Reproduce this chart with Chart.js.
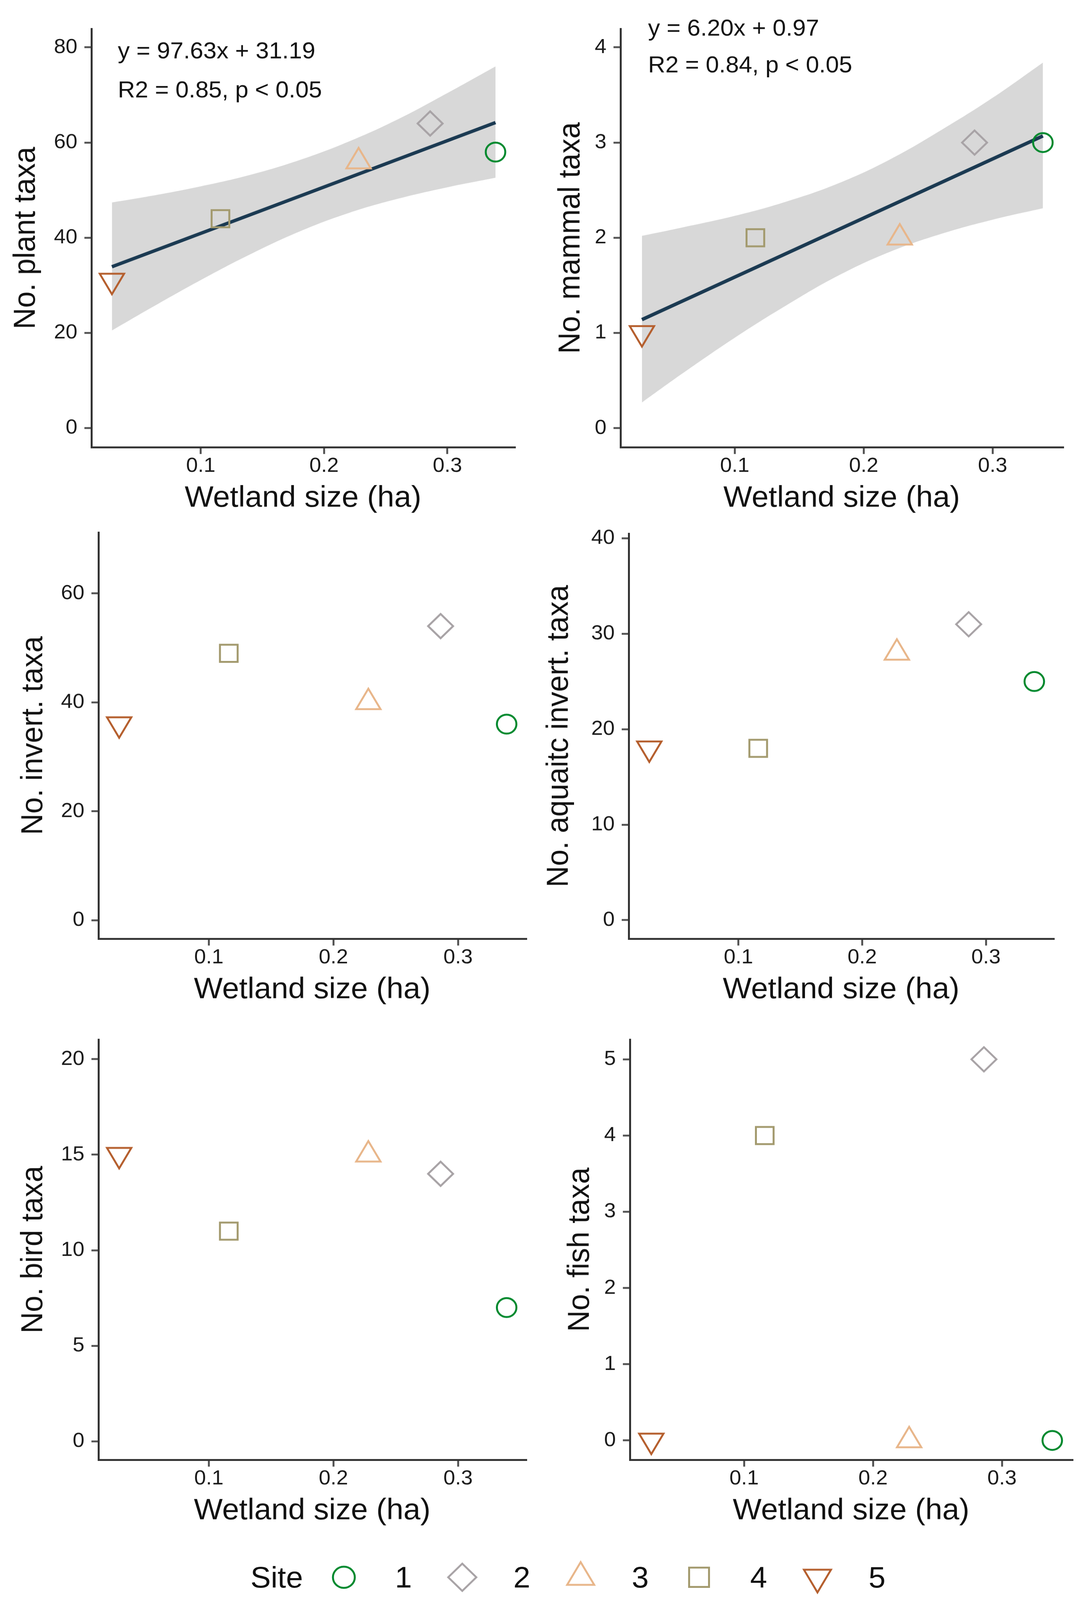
<!DOCTYPE html>
<html>
<head>
<meta charset="utf-8">
<script src="https://cdn.jsdelivr.net/npm/chart.js@4.4.0/dist/chart.umd.min.js"></script>
<style>
  html, body { margin: 0; padding: 0; background: #fff; overflow: hidden; }
  #page { width: 2792px; height: 4222px; position: relative; transform-origin: 0 0;
          font-family: "Liberation Sans", Arial, sans-serif; }
  canvas.panel { position: absolute; }
  #legend { position: absolute; left: 641px; top: 4117px; height: 90px;
            display: flex; align-items: center; font-size: 78px; color: #111; }
  #legend .site { margin-right: 60px; }
  #legend canvas { width: 90px; height: 90px; }
  #legend .lab { display: inline-block; width: 44px; text-align: center; margin-left: 85px; margin-right: 84px; }
</style>
</head>
<body>
<div id="page"><div id="legend"></div></div>
<script>
// sites and wetland size (ha)
const sites = ['1', '2', '3', '4', '5']
const wetlandSize = [0.339, 0.286, 0.228, 0.116, 0.028]

// taxa counts per site
const plantTaxa = [58, 64, 56, 44, 31]
const mammalTaxa = [3, 3, 2, 2, 1]
const invertTaxa = [36, 54, 40, 49, 36]
const aquaticInvertTaxa = [25, 31, 28, 18, 18]
const birdTaxa = [7, 14, 15, 11, 15]
const fishTaxa = [0, 5, 0, 4, 0]

// fitted lines and confidence band
const fitX = [0.028, 0.339]
const plantFit = [33.9, 64.2]
const mammalFit = [1.14, 3.07]
const bandX = [0.028, 0.06, 0.10, 0.14, 0.18, 0.22, 0.26, 0.30, 0.339]
const plantBandUpper = [47.4, 48.8, 50.8, 53.2, 56.3, 60.2, 64.9, 70.4, 76.0]
const plantBandLower = [20.5, 25.3, 31.1, 36.5, 41.3, 45.2, 48.2, 50.6, 52.6]
const mammalBandUpper = [2.02, 2.11, 2.23, 2.38, 2.57, 2.82, 3.13, 3.47, 3.84]
const mammalBandLower = [0.27, 0.58, 0.95, 1.29, 1.60, 1.85, 2.04, 2.19, 2.31]

const plantStats = ['y = 97.63x + 31.19', 'R2 = 0.85, p < 0.05']
const mammalStats = ['y = 6.20x + 0.97', 'R2 = 0.84, p < 0.05']

// tick labels
const xTicks = [0.1, 0.2, 0.3]
const xTickLabels = ['0.1', '0.2', '0.3']
const plantTicks = [0, 20, 40, 60, 80]
const mammalTicks = [0, 1, 2, 3, 4]
const invertTicks = [0, 20, 40, 60]
const aquaticTicks = [0, 10, 20, 30, 40]
const birdTicks = [0, 5, 10, 15, 20]
const fishTicks = [0, 1, 2, 3, 4, 5]

// styles
const FONT = '"Liberation Sans", Arial, sans-serif'
const siteColors = ['#00892e', '#a8a3a6', '#e8b68a', '#a39a6e', '#b55f2e']
const siteStyles = ['circle', 'rectRot', 'triangle', 'rect', 'triangle']
const siteRotation = [0, 0, 0, 0, 180]
const siteRadius = [25, 32, 36, 32, 36]
const legendRadius = [28, 36, 40, 36, 40]
const fitColor = '#1b3a52'
const bandColor = '#d8d8d8'
const axisColor = '#333333'
const tickColor = '#555555'
const xMin = 0.0114, xMax = 0.3545

// panels: box = [left, top, width, height] of canvas, yW / xH = axis box sizes
const panels = [
  { box: [11, 31, 1347, 1335], yW: 223, xH: 186, y: plantTaxa, ticks: plantTicks, min: -4.02, max: 83.9,
    title: 'No. plant taxa', fit: plantFit, upper: plantBandUpper, lower: plantBandLower,
    stats: { lines: plantStats, x: 0.0328, y: [79.0, 70.8] } },
  { box: [1405, 31, 1356, 1335], yW: 183, xH: 186, y: mammalTaxa, ticks: mammalTicks, min: -0.2, max: 4.195,
    title: 'No. mammal taxa', fit: mammalFit, upper: mammalBandUpper, lower: mammalBandLower,
    stats: { lines: mammalStats, x: 0.0328, y: [4.19, 3.805] } },
  { box: [30, 1360, 1357, 1303], yW: 222, xH: 186, y: invertTaxa, ticks: invertTicks, min: -3.41, max: 71.2,
    title: 'No. invert. taxa' },
  { box: [1375, 1363, 1362, 1300], yW: 234, xH: 186, y: aquaticInvertTaxa, ticks: aquaticTicks, min: -1.95, max: 40.5,
    title: 'No. aquaitc invert. taxa' },
  { box: [30, 2698, 1357, 1340], yW: 222, xH: 186, y: birdTaxa, ticks: birdTicks, min: -0.97, max: 21.03,
    title: 'No. bird taxa' },
  { box: [1429, 2698, 1356, 1340], yW: 183, xH: 186, y: fishTaxa, ticks: fishTicks, min: -0.254, max: 5.26,
    title: 'No. fish taxa' }
]

const page = document.getElementById('page')
// the window may be shorter than the figure: squeeze it to fit
const fitScale = Math.min(1, window.innerHeight / 4222)
if (fitScale < 1) page.style.transform = 'scale(1,' + fitScale + ')'

const statsPlugin = {
  id: 'stats',
  afterDatasetsDraw(chart, args, opts) {
    if (!opts || !opts.lines) return
    const ctx = chart.ctx
    ctx.save()
    ctx.font = '61px ' + FONT
    ctx.fillStyle = '#111'
    ctx.textAlign = 'left'
    ctx.textBaseline = 'middle'
    opts.lines.forEach((t, i) => {
      ctx.fillText(t, chart.scales.x.getPixelForValue(opts.x), chart.scales.y.getPixelForValue(opts.y[i]))
    })
    ctx.restore()
  }
}

function makePanel(p) {
  const cv = document.createElement('canvas')
  cv.className = 'panel'
  cv.width = p.box[2]
  cv.height = p.box[3]
  cv.style.left = p.box[0] + 'px'
  cv.style.top = p.box[1] + 'px'
  cv.style.width = p.box[2] + 'px'
  cv.style.height = p.box[3] + 'px'
  page.appendChild(cv)

  const datasets = [{
    type: 'scatter',
    data: wetlandSize.map((x, i) => ({ x: x, y: p.y[i] })),
    pointStyle: siteStyles,
    pointRotation: siteRotation,
    pointRadius: siteRadius,
    pointBorderColor: siteColors,
    pointBackgroundColor: 'rgba(0,0,0,0)',
    pointBorderWidth: 5,
    clip: false,
    order: 0
  }]
  if (p.fit) {
    datasets.push({
      type: 'line',
      data: fitX.map((x, i) => ({ x: x, y: p.fit[i] })),
      borderColor: fitColor, borderWidth: 9, pointRadius: 0, fill: false, order: 1
    })
    datasets.push({
      type: 'line',
      data: bandX.map((x, i) => ({ x: x, y: p.upper[i] })),
      borderColor: 'rgba(0,0,0,0)', borderWidth: 0, pointRadius: 0, tension: 0.4,
      fill: '+1', backgroundColor: bandColor, order: 2
    })
    datasets.push({
      type: 'line',
      data: bandX.map((x, i) => ({ x: x, y: p.lower[i] })),
      borderColor: 'rgba(0,0,0,0)', borderWidth: 0, pointRadius: 0, tension: 0.4,
      fill: false, order: 3
    })
  }

  new Chart(cv, {
    type: 'scatter',
    data: { datasets: datasets },
    plugins: [statsPlugin],
    options: {
      responsive: false,
      maintainAspectRatio: false,
      devicePixelRatio: 1,
      animation: false,
      events: [],
      layout: { padding: { top: 45, right: 30, left: 0, bottom: 0 } },
      plugins: {
        legend: { display: false },
        tooltip: { enabled: false },
        stats: p.stats || false
      },
      scales: {
        x: {
          type: 'linear', min: xMin, max: xMax,
          afterBuildTicks: s => { s.ticks = xTicks.map(v => ({ value: v })) },
          afterFit: s => { s.height = p.xH; s.paddingLeft = 0; s.paddingRight = 0 },
          ticks: { callback: (v, i) => xTickLabels[i], font: { family: FONT, size: 54 }, color: '#1a1a1a',
                   padding: 0, maxRotation: 0, autoSkip: false },
          grid: { drawOnChartArea: false, drawTicks: true, tickLength: 18, color: tickColor, lineWidth: 5 },
          border: { display: true, color: axisColor, width: 5 },
          title: { display: true, text: 'Wetland size (ha)', font: { family: FONT, size: 78 }, color: '#111',
                   padding: { top: 0, bottom: 4 } }
        },
        y: {
          type: 'linear', min: p.min, max: p.max,
          afterBuildTicks: s => { s.ticks = p.ticks.map(v => ({ value: v })) },
          afterFit: s => { s.width = p.yW; s.paddingTop = 0; s.paddingBottom = 0 },
          ticks: { callback: (v, i) => String(p.ticks[i]), font: { family: FONT, size: 54 }, color: '#1a1a1a',
                   padding: 18, autoSkip: false },
          grid: { drawOnChartArea: false, drawTicks: true, tickLength: 18, color: tickColor, lineWidth: 5 },
          border: { display: true, color: axisColor, width: 5 },
          title: { display: true, text: p.title, font: { family: FONT, size: 78 }, color: '#111',
                   padding: { top: 10, bottom: 0 } }
        }
      }
    }
  })
}

panels.forEach(makePanel)

// legend
function drawMarker(ctx, i, x, y) {
  ctx.strokeStyle = siteColors[i]
  ctx.lineWidth = 5
  const r = legendRadius[i]
  ctx.beginPath()
  if (siteStyles[i] === 'circle') ctx.arc(x, y, r, 0, Math.PI * 2)
  else if (siteStyles[i] === 'rect') ctx.rect(x - r * Math.SQRT1_2, y - r * Math.SQRT1_2, 2 * r * Math.SQRT1_2, 2 * r * Math.SQRT1_2)
  else if (siteStyles[i] === 'rectRot') { ctx.moveTo(x - r, y); ctx.lineTo(x, y - r); ctx.lineTo(x + r, y); ctx.lineTo(x, y + r); ctx.closePath() }
  else {
    let a = siteRotation[i] * Math.PI / 180
    for (let k = 0; k < 3; k++) {
      const px = x + Math.sin(a) * r, py = y - Math.cos(a) * r
      if (k === 0) ctx.moveTo(px, py); else ctx.lineTo(px, py)
      a += Math.PI * 2 / 3
    }
    ctx.closePath()
  }
  ctx.stroke()
}

const legend = document.getElementById('legend')
let html = '<span class="site">Site</span>'
sites.forEach((s, i) => {
  html += `<canvas width="90" height="90" data-i="${i}"></canvas><span class="lab">${s}</span>`
})
legend.innerHTML = html
legend.querySelectorAll('canvas').forEach(c => {
  drawMarker(c.getContext('2d'), Number(c.dataset.i), 45, 45)
})
</script>
</body>
</html>
